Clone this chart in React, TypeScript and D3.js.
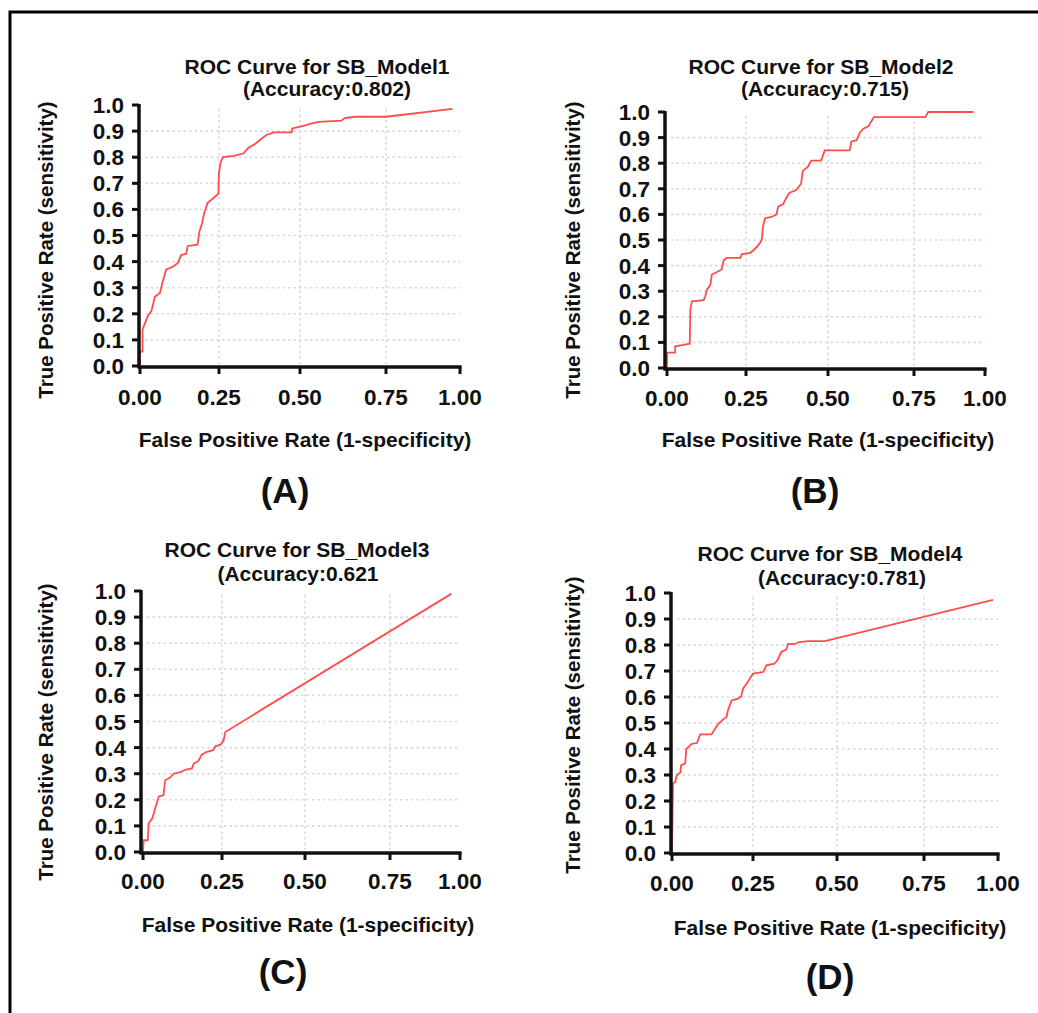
import React from "react";
import * as d3 from "d3";

// ---------- data ----------
const X_TICKS = [0, 0.25, 0.5, 0.75, 1];
const X_TICK_LABELS = ["0.00", "0.25", "0.50", "0.75", "1.00"];
const Y_TICKS = [0, 0.1, 0.2, 0.3, 0.4, 0.5, 0.6, 0.7, 0.8, 0.9, 1.0];
const Y_TICK_LABELS = ["0.0", "0.1", "0.2", "0.3", "0.4", "0.5", "0.6", "0.7", "0.8", "0.9", "1.0"];
const GRID_X = [0.25, 0.5, 0.75];
const GRID_Y = [0.1, 0.2, 0.3, 0.4, 0.5, 0.6, 0.7, 0.8, 0.9];

const MODEL_TITLES = [
  "ROC Curve for SB_Model1",
  "ROC Curve for SB_Model2",
  "ROC Curve for SB_Model3",
  "ROC Curve for SB_Model4",
];
const ACCURACY_TEXT = ["(Accuracy:0.802)", "(Accuracy:0.715)", "(Accuracy:0.621", "(Accuracy:0.781)"];
const PANEL_TAGS = ["(A)", "(B)", "(C)", "(D)"];
const X_LABEL = "False Positive Rate (1-specificity)";
const Y_LABEL = "True Positive Rate (sensitivity)";

const FPR_A = [0, 0, 0.008, 0.008, 0.016, 0.026, 0.036, 0.047, 0.063, 0.07, 0.083, 0.104, 0.12, 0.13, 0.146, 0.151, 0.182, 0.188, 0.196, 0.203, 0.214, 0.229, 0.248, 0.25, 0.255, 0.262, 0.296, 0.326, 0.34, 0.36, 0.38, 0.396, 0.42, 0.474, 0.476, 0.51, 0.534, 0.554, 0.62, 0.63, 0.66, 0.75, 0.975];
const TPR_A = [0, 0.055, 0.055, 0.14, 0.165, 0.195, 0.21, 0.265, 0.28, 0.315, 0.37, 0.38, 0.395, 0.425, 0.43, 0.46, 0.465, 0.515, 0.545, 0.585, 0.625, 0.64, 0.66, 0.74, 0.78, 0.8, 0.805, 0.815, 0.835, 0.85, 0.87, 0.885, 0.895, 0.895, 0.91, 0.92, 0.93, 0.935, 0.94, 0.95, 0.955, 0.955, 0.985];

const FPR_B = [0, 0, 0.026, 0.026, 0.052, 0.072, 0.074, 0.079, 0.116, 0.121, 0.126, 0.137, 0.142, 0.158, 0.173, 0.179, 0.189, 0.232, 0.237, 0.263, 0.273, 0.288, 0.298, 0.302, 0.308, 0.328, 0.343, 0.348, 0.363, 0.373, 0.383, 0.403, 0.418, 0.423, 0.438, 0.449, 0.479, 0.49, 0.563, 0.568, 0.583, 0.593, 0.603, 0.618, 0.633, 0.79, 0.8, 0.96];
const TPR_B = [0, 0.06, 0.06, 0.085, 0.09, 0.095, 0.23, 0.26, 0.265, 0.28, 0.305, 0.325, 0.365, 0.375, 0.385, 0.42, 0.43, 0.43, 0.445, 0.45, 0.46, 0.48, 0.5, 0.555, 0.585, 0.59, 0.6, 0.63, 0.64, 0.665, 0.685, 0.695, 0.72, 0.77, 0.785, 0.81, 0.81, 0.85, 0.85, 0.885, 0.89, 0.92, 0.935, 0.945, 0.98, 0.98, 1.0, 1.0];

const FPR_C = [0, 0.002, 0.015, 0.018, 0.029, 0.034, 0.039, 0.044, 0.05, 0.065, 0.07, 0.086, 0.097, 0.118, 0.134, 0.155, 0.16, 0.176, 0.186, 0.2, 0.222, 0.229, 0.245, 0.255, 0.26, 0.97];
const TPR_C = [0, 0.045, 0.045, 0.11, 0.128, 0.147, 0.17, 0.19, 0.213, 0.217, 0.275, 0.285, 0.3, 0.306, 0.315, 0.32, 0.338, 0.35, 0.373, 0.383, 0.39, 0.405, 0.411, 0.428, 0.46, 0.99];

const FPR_D = [0, 0.003, 0.01, 0.015, 0.026, 0.028, 0.041, 0.044, 0.061, 0.077, 0.087, 0.122, 0.133, 0.143, 0.158, 0.168, 0.173, 0.184, 0.204, 0.214, 0.219, 0.23, 0.24, 0.25, 0.28, 0.29, 0.314, 0.324, 0.334, 0.349, 0.354, 0.379, 0.384, 0.414, 0.464, 0.983];
const TPR_D = [0, 0.267, 0.273, 0.3, 0.31, 0.337, 0.345, 0.4, 0.42, 0.423, 0.456, 0.456, 0.478, 0.497, 0.514, 0.522, 0.55, 0.587, 0.594, 0.603, 0.632, 0.651, 0.67, 0.69, 0.696, 0.722, 0.728, 0.744, 0.773, 0.782, 0.803, 0.805, 0.81, 0.815, 0.815, 0.974];

const SERIES = [
  [FPR_A, TPR_A],
  [FPR_B, TPR_B],
  [FPR_C, TPR_C],
  [FPR_D, TPR_D],
];

// ---------- layout ----------
const LAYOUT = [
  { xr: [140, 219, 300, 386, 460], yr: [366, 105], ax: 139, tX: 317, tY: 74, aX: 327, aY: 96, tickY: 405, xlX: 305, xlY: 447, ylX: 53, ylY: 250, lX: 285, lY: 503 },
  { xr: [667, 746, 828, 914, 985], yr: [368, 112], ax: 665, tX: 821, tY: 74, aX: 825, aY: 96, tickY: 406, xlX: 828, xlY: 447, ylX: 580, ylY: 250, lX: 815, lY: 503 },
  { xr: [143, 222, 305, 390, 460], yr: [852, 591], ax: 141, tX: 297, tY: 557, aX: 298, aY: 581, tickY: 889, xlX: 308, xlY: 932, ylX: 53, ylY: 732, lX: 283, lY: 984 },
  { xr: [672, 753, 837, 924, 998], yr: [853, 593], ax: 671, tX: 830, tY: 561, aX: 842, aY: 585, tickY: 891, xlX: 840, xlY: 935, ylX: 580, ylY: 725, lX: 830, lY: 989 },
];

const FONT = "'Liberation Sans', Arial, Helvetica, sans-serif";
const INK = "#111";
const GRID = "#d9d9d9";

function Panel({ i }: { i: number }) {
  const L = LAYOUT[i];
  const [fpr, tpr] = SERIES[i];
  const xs = d3.scaleLinear().domain(X_TICKS).range(L.xr);
  const ys = d3.scaleLinear().domain([0, 1]).range(L.yr);
  const pts: [number, number][] = fpr.map((f, k) => [f, tpr[k]]);
  const line = d3
    .line<[number, number]>()
    .x((d) => xs(d[0]))
    .y((d) => ys(d[1]));
  const y0 = ys(0);
  const y1 = ys(1);
  const x1 = xs(1);
  return (
    <g>
      {/* grid */}
      {GRID_Y.map((v) => (
        <line key={"gy" + v} x1={L.ax + 6} x2={x1} y1={ys(v)} y2={ys(v)} stroke={GRID} strokeWidth={1.6} strokeDasharray="2.5,3" />
      ))}
      {GRID_X.map((v) => (
        <line key={"gx" + v} x1={xs(v)} x2={xs(v)} y1={y1 + 4} y2={y0 - 2} stroke={GRID} strokeWidth={1.6} strokeDasharray="2.5,3" />
      ))}
      {/* curve */}
      <path d={line(pts) || ""} fill="none" stroke="#ff3a3a" strokeWidth={1.8} strokeOpacity={0.9} />
      {/* axes */}
      <line x1={L.ax} x2={L.ax} y1={y1 - 1} y2={y0 + 2} stroke={INK} strokeWidth={3.5} />
      <line x1={L.ax - 1.5} x2={x1 + 1.5} y1={y0 + 1} y2={y0 + 1} stroke={INK} strokeWidth={3.5} />
      {Y_TICKS.map((v, k) => (
        <g key={"yt" + k}>
          <line x1={L.ax - 7} x2={L.ax} y1={ys(v)} y2={ys(v)} stroke={INK} strokeWidth={3} />
          <text x={L.ax - 15} y={ys(v) + 8} textAnchor="end" fontFamily={FONT} fontWeight="bold" fontSize={22.5} fill={INK}>
            {Y_TICK_LABELS[k]}
          </text>
        </g>
      ))}
      {X_TICKS.map((v, k) => (
        <g key={"xt" + k}>
          <line x1={xs(v)} x2={xs(v)} y1={y0} y2={y0 + 8} stroke={INK} strokeWidth={3} />
          <text x={xs(v)} y={L.tickY} textAnchor="middle" fontFamily={FONT} fontWeight="bold" fontSize={22.5} fill={INK}>
            {X_TICK_LABELS[k]}
          </text>
        </g>
      ))}
      {/* titles */}
      <text x={L.tX} y={L.tY} textAnchor="middle" fontFamily={FONT} fontWeight="bold" fontSize={21} fill={INK}>
        {MODEL_TITLES[i]}
      </text>
      <text x={L.aX} y={L.aY} textAnchor="middle" fontFamily={FONT} fontWeight="bold" fontSize={21} fill={INK}>
        {ACCURACY_TEXT[i]}
      </text>
      {/* axis labels */}
      <text x={L.xlX} y={L.xlY} textAnchor="middle" fontFamily={FONT} fontWeight="bold" fontSize={21} fill={INK}>
        {X_LABEL}
      </text>
      <text transform={`translate(${L.ylX},${L.ylY}) rotate(-90)`} textAnchor="middle" fontFamily={FONT} fontWeight="bold" fontSize={20.5} fill={INK}>
        {Y_LABEL}
      </text>
      {/* panel tag */}
      <text x={L.lX} y={L.lY} textAnchor="middle" fontFamily={FONT} fontWeight="bold" fontSize={35} fill={INK}>
        {PANEL_TAGS[i]}
      </text>
    </g>
  );
}

export default function App() {
  return (
    <svg
      width={1038}
      height={1013}
      viewBox="0 0 1038 1013"
      style={{ position: "absolute", left: 0, top: 0, background: "#fff" }}
    >
      <rect x={0} y={0} width={1038} height={1013} fill="#fff" />
      <path d="M10,1013 L10,12 L1038,12" fill="none" stroke="#000" strokeWidth={3} />
      {[0, 1, 2, 3].map((i) => (
        <Panel key={i} i={i} />
      ))}
    </svg>
  );
}
